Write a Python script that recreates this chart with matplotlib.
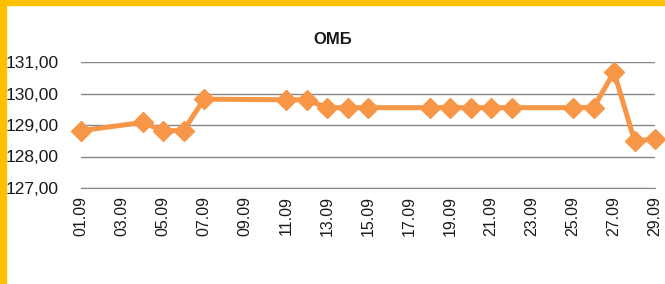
import matplotlib.pyplot as plt
from matplotlib.patches import Rectangle

# days of September and the rate
days = [1, 4, 5, 6, 7, 11, 12, 13, 14, 15, 18, 19, 20, 21, 22, 25, 26, 27, 28, 29]
values = [128.82, 129.08, 128.82, 128.82, 129.82, 129.80, 129.80, 129.55, 129.55, 129.55,
          129.55, 129.55, 129.55, 129.55, 129.55, 129.55, 129.55, 130.68, 128.50, 128.55]
tick_days = list(range(1, 30, 2))
tick_labels = ['%02d.09' % d for d in tick_days]
y_ticks = [127, 128, 129, 130, 131]

plt.rcParams['font.family'] = ['Liberation Sans', 'DejaVu Sans']

fig = plt.figure(figsize=(6.65, 2.84), dpi=100)
ax = fig.add_axes([81 / 665, 1 - 188 / 284, (655 - 81) / 665, (188 - 62) / 284])

ax.plot(days, values, color='#F79646', lw=3.6, marker='D', markersize=10,
        markeredgecolor='#F79646', solid_joinstyle='round', zorder=3, clip_on=False)

ax.set_xlim(1, 29)
ax.set_ylim(127, 131)
ax.set_yticks(y_ticks)
ax.set_yticklabels(['%d,00' % v for v in y_ticks], fontsize=12.5, color='#1a1a1a')
ax.set_xticks(tick_days)
ax.set_xticklabels(tick_labels, rotation=90, fontsize=11.5, color='#1a1a1a')
ax.tick_params(axis='y', length=0, pad=16)
ax.tick_params(axis='x', length=0, pad=6)
ax.yaxis.grid(True, color='#868686', lw=1)
for s in ['top', 'right', 'left']:
    ax.spines[s].set_visible(False)
ax.spines['bottom'].set_color('#868686')
fig.text(333 / 665, 1 - 40 / 284, 'ОМБ', fontsize=12, fontweight='bold',
         color='#1a1a1a', ha='center', va='center')

# yellow frame on top and left
fig.patches.append(Rectangle((0, 1 - 5 / 284), 1, 5 / 284, transform=fig.transFigure,
                             color='#FFC000', zorder=0))
fig.patches.append(Rectangle((0, 0), 6 / 665, 1, transform=fig.transFigure,
                             color='#FFC000', zorder=0))

fig.savefig('out.png', dpi=100)
